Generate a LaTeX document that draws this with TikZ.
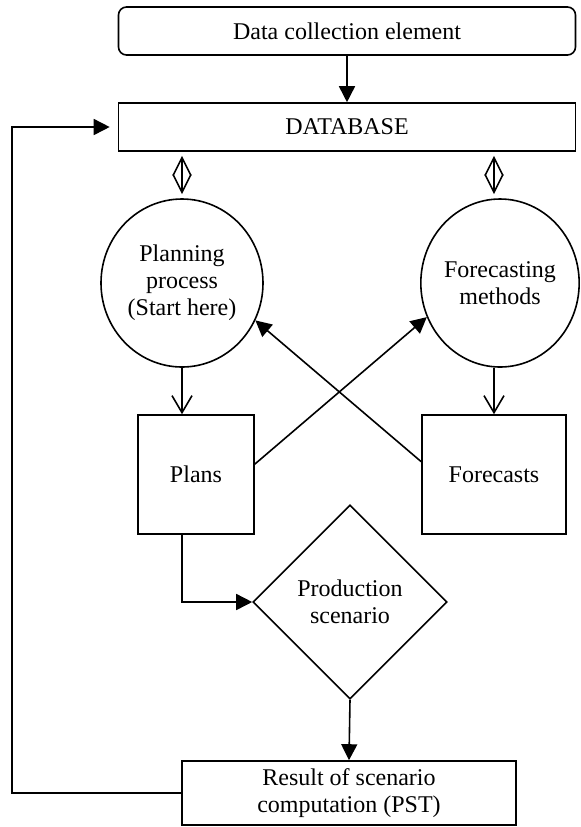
\documentclass[tikz,border=0pt]{standalone}
\usepackage{fontspec}
\setmainfont{Liberation Serif}
\usetikzlibrary{arrows.meta,shapes.geometric}
\tikzset{
  box/.style={draw,line width=0.8pt,inner sep=2pt,align=center,font=\fontsize{12}{13.5}\selectfont},
  fillarrow/.style={-{Triangle[length=8pt,width=8pt]}},
  openarrow/.style={-{Straight Barb[length=8.5pt,width=10pt]}},
  dblarrow/.style={{Straight Barb[length=9pt,width=9pt]}-{Straight Barb[length=9pt,width=9pt]},shorten <=2pt,shorten >=2pt}
}
\begin{document}
\begin{tikzpicture}[x=0.5pt,y=-0.5pt,line width=0.8pt]
\useasboundingbox (0,0) rectangle (581,827);
\node[box,rounded corners=4pt,minimum width=228.5pt,minimum height=24pt] (dce) at (347,31) {Data collection element};
\node[box,minimum width=228.5pt,minimum height=24pt] (db) at (347,127) {DATABASE};
\node[box,ellipse,inner sep=0pt,minimum width=81pt,minimum height=84pt] (plan) at (182,283) {Planning\\process\\(Start here)};
\node[box,ellipse,inner sep=0pt,minimum width=78pt,minimum height=84pt] (meth) at (500,283) {Forecasting\\methods};
\node[box,minimum width=58pt,minimum height=59.5pt] (plans) at (196,474.5) {Plans};
\node[box,minimum width=72pt,minimum height=59.5pt] (fcst) at (494,474.5) {Forecasts};
\node[box,diamond,inner sep=0pt,minimum width=97pt,minimum height=97pt] (scen) at (350,602) {Production\\scenario};
\node[box,minimum width=167pt,minimum height=32pt] (res) at (349,793) {Result of scenario\\computation (PST)};

\draw[fillarrow] (dce) -- (db);
\draw[dblarrow] (db.south -| plan) -- (plan.north);
\draw[dblarrow] (db.south -| fcst) -- (fcst |- meth.north);
\draw[openarrow] (plan.south) -- (plan.south |- plans.north);
\draw[openarrow] (fcst |- meth.south) -- (fcst.north);
\draw[fillarrow] (plans.10) -- (meth.205);
\draw[fillarrow] (fcst.170) -- (plan.-27);
\draw[fillarrow] (plan.south |- plans.south) |- (scen.west);
\draw[fillarrow] (scen.south) -- (res.north);
\draw[fillarrow,shorten >=4pt] (res.west) -- ++(-169,0) |- (db.west);
\end{tikzpicture}
\end{document}
